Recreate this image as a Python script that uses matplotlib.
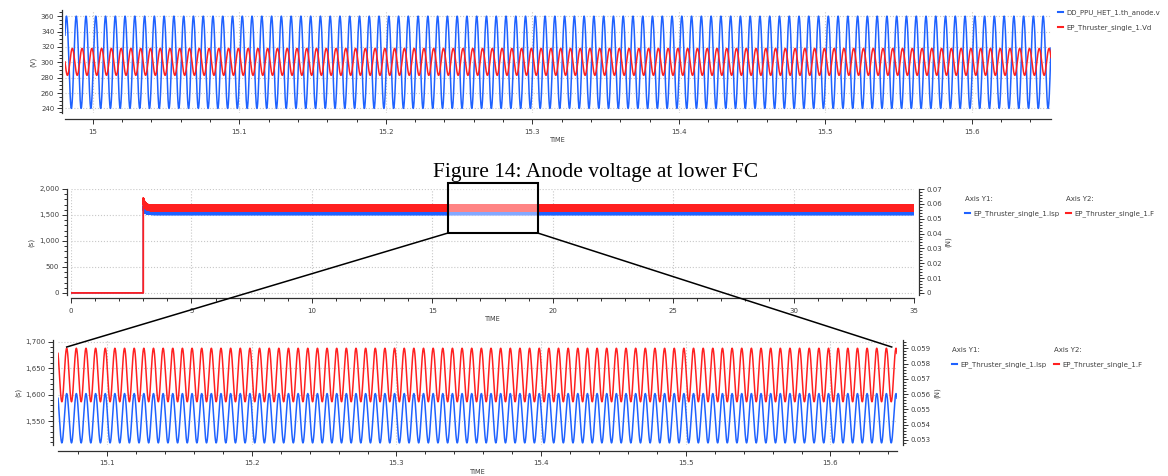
import matplotlib
matplotlib.use('Agg')
import matplotlib.pyplot as plt
import numpy as np
from matplotlib.lines import Line2D
from matplotlib.patches import Rectangle
from matplotlib.ticker import MultipleLocator, AutoMinorLocator, FuncFormatter

W, H = 1168, 476
plt.rcParams['font.family'] = ['DejaVu Sans']

BLUE = '#1f62ff'
RED = '#ff2020'
TXT = '#404040'
GRID = '#c8c8c8'

FREQ_HZ = 150.0

# top panel: anode voltage
TOP_XLIM = [14.981, 15.654]
TOP_YLIM = [234, 368]
TOP_LABELS = ['DD_PPU_HET_1.th_anode.v', 'EP_Thruster_single_1.Vd']
TOP_MIN = [240.0, 283.0]
TOP_MAX = [360.0, 318.0]
TOP_PEAK_T = [14.982, 14.986]

# middle panel: whole run
MID_XLIM = [0, 35]
MID_LABELS = ['EP_Thruster_single_1.Isp', 'EP_Thruster_single_1.F']
STEP_T = 3.0
ISP_BAND = [1509.0, 1602.0]
F_BAND = [0.0555, 0.0590]
ISP_PEAK = 1680.0
F_PEAK = 0.0640
SETTLE_TAU = 0.08

# bottom panel: zoom
ZOOM_XLIM = [15.066, 15.646]
ZOOM_YLIM_S = [1505, 1703]
ZOOM_YLIM_N = [0.05267, 0.05954]
ZOOM_PEAK_T = 15.072


def fx(px):
    return px / W


def fy(py):
    return 1 - py / H


def wave(t, lo, hi, t_peak):
    mid = (lo + hi) / 2
    amp = (hi - lo) / 2
    return mid + amp * np.cos(2 * np.pi * FREQ_HZ * (t - t_peak))


def style_axes(ax, xoff, yoff):
    for side in ['top', 'right']:
        ax.spines[side].set_visible(False)
    ax.spines['left'].set_position(('outward', yoff))
    ax.spines['bottom'].set_position(('outward', xoff))
    for side in ['left', 'bottom']:
        ax.spines[side].set_color('#303030')
        ax.spines[side].set_linewidth(0.9)
    ax.tick_params(which='both', direction='out', colors='#303030',
                   labelcolor=TXT, labelsize=5, width=0.7)
    ax.tick_params(which='major', length=3.5)
    ax.tick_params(which='minor', length=2)
    ax.tick_params(axis='x', which='major', pad=3.5)
    ax.tick_params(axis='y', which='major', pad=2)
    ax.grid(True, which='major', color=GRID, linestyle=':', linewidth=0.8)
    ax.set_axisbelow(True)
    ax.set_xlabel('TIME', fontsize=4.8, color=TXT, labelpad=1.5)


def style_twin(ax2, yoff):
    for side in ['top', 'left', 'bottom']:
        ax2.spines[side].set_visible(False)
    ax2.spines['right'].set_position(('outward', yoff))
    ax2.spines['right'].set_color('#303030')
    ax2.spines['right'].set_linewidth(0.9)
    ax2.tick_params(which='both', direction='out', colors='#303030',
                    labelcolor=TXT, labelsize=5, width=0.7)
    ax2.tick_params(which='major', length=3.5, pad=2)
    ax2.tick_params(which='minor', length=2)


def add_legend(ax, handles, labels, x, y, title=None):
    leg = ax.legend(handles, labels, title=title, loc='upper left',
                    bbox_to_anchor=(fx(x), fy(y)), bbox_transform=ax.figure.transFigure,
                    frameon=False, fontsize=5, title_fontsize=5,
                    handlelength=0.7, handletextpad=0.5, borderpad=0,
                    borderaxespad=0, labelspacing=1.2, alignment='left')
    for txt in leg.get_texts():
        txt.set_color(TXT)
    if title:
        leg.get_title().set_color(TXT)
    return leg


gfmt = FuncFormatter(lambda v, p: f'{v:g}')
cfmt = FuncFormatter(lambda v, p: f'{v:,.0f}')

fig = plt.figure(figsize=(W / 100, H / 100), dpi=100)

# ---------- top panel ----------
ax1 = fig.add_axes([fx(65), fy(113), fx(1051) - fx(65), (113 - 10) / H])
t_top = np.linspace(TOP_XLIM[0], TOP_XLIM[1], 8000)
colors = [BLUE, RED]
for i in range(2):
    ax1.plot(t_top, wave(t_top, TOP_MIN[i], TOP_MAX[i], TOP_PEAK_T[i]),
             color=colors[i], lw=1.1)
ax1.set_xlim(TOP_XLIM)
ax1.set_ylim(TOP_YLIM)
ax1.xaxis.set_major_locator(MultipleLocator(0.1))
ax1.xaxis.set_minor_locator(AutoMinorLocator(5))
ax1.yaxis.set_major_locator(MultipleLocator(20))
ax1.yaxis.set_minor_locator(AutoMinorLocator(4))
ax1.xaxis.set_major_formatter(gfmt)
style_axes(ax1, xoff=4.3, yoff=2.2)
ax1.set_ylabel('(V)', fontsize=5, color=TXT, labelpad=3)
add_legend(ax1, [Line2D([], [], color=c, lw=1.5) for c in colors], TOP_LABELS, 1058, 9)

fig.text(fx(595.5), fy(177), 'Figure 14: Anode voltage at lower FC',
         family=['Liberation Serif', 'DejaVu Serif'], fontsize=15.4,
         ha='center', va='baseline', color='black')

# ---------- middle panel ----------
ax2 = fig.add_axes([fx(71), fy(295), fx(914) - fx(71), (295 - 189) / H])
t_mid = np.linspace(MID_XLIM[0], MID_XLIM[1], 84001)
on = t_mid >= STEP_T
decay = np.exp(-(t_mid - STEP_T) / SETTLE_TAU)
isp = np.where(on, wave(t_mid, ISP_BAND[0], ISP_BAND[1], STEP_T)
               + (ISP_PEAK - ISP_BAND[1]) * decay, 0.0)
thrust = np.where(on, wave(t_mid, F_BAND[0], F_BAND[1], STEP_T)
                  + (F_PEAK - F_BAND[1]) * decay, 0.0)
ax2.plot(t_mid, isp, color=BLUE, lw=1.0)
ax2.set_xlim(MID_XLIM)
ax2.set_ylim(-40, 2000)
ax2.xaxis.set_major_locator(MultipleLocator(5))
ax2.xaxis.set_minor_locator(AutoMinorLocator(5))
ax2.yaxis.set_major_locator(MultipleLocator(500))
ax2.yaxis.set_minor_locator(AutoMinorLocator(5))
ax2.yaxis.set_major_formatter(cfmt)
style_axes(ax2, xoff=2.2, yoff=3.0)
ax2.set_ylabel('(s)', fontsize=5, color=TXT, labelpad=3)
ax2r = ax2.twinx()
ax2r.plot(t_mid, thrust, color=RED, lw=1.3)
ax2r.set_ylim(-0.0014, 0.07)
ax2r.yaxis.set_major_locator(MultipleLocator(0.01))
ax2r.yaxis.set_minor_locator(AutoMinorLocator(5))
ax2r.yaxis.set_major_formatter(gfmt)
style_twin(ax2r, 3.6)
ax2r.set_ylabel('(N)', fontsize=5, color=TXT, labelpad=2)
add_legend(ax2r, [Line2D([], [], color=BLUE, lw=1.5)], [MID_LABELS[0]], 965, 196, 'Axis Y1:')
ax2r.add_artist(ax2r.get_legend())
add_legend(ax2r, [Line2D([], [], color=RED, lw=1.5)], [MID_LABELS[1]], 1066, 196, 'Axis Y2:')

# ---------- bottom panel ----------
ax3 = fig.add_axes([fx(58), fy(445), fx(897) - fx(58), (445 - 340) / H])
t_zoom = np.linspace(ZOOM_XLIM[0], ZOOM_XLIM[1], 8000)
ax3.plot(t_zoom, wave(t_zoom, ISP_BAND[0], ISP_BAND[1], ZOOM_PEAK_T), color=BLUE, lw=1.1)
ax3.set_xlim(ZOOM_XLIM)
ax3.set_ylim(ZOOM_YLIM_S)
ax3.xaxis.set_major_locator(MultipleLocator(0.1))
ax3.xaxis.set_minor_locator(AutoMinorLocator(5))
ax3.yaxis.set_major_locator(MultipleLocator(50))
ax3.yaxis.set_minor_locator(AutoMinorLocator(5))
ax3.xaxis.set_major_formatter(gfmt)
ax3.yaxis.set_major_formatter(cfmt)
style_axes(ax3, xoff=4.1, yoff=3.6)
ax3.set_ylabel('(s)', fontsize=5, color=TXT, labelpad=3)
ax3r = ax3.twinx()
ax3r.plot(t_zoom, wave(t_zoom, F_BAND[0], F_BAND[1], ZOOM_PEAK_T), color=RED, lw=1.1)
ax3r.set_ylim(ZOOM_YLIM_N)
ax3r.yaxis.set_major_locator(MultipleLocator(0.001))
ax3r.yaxis.set_minor_locator(AutoMinorLocator(5))
ax3r.yaxis.set_major_formatter(gfmt)
style_twin(ax3r, 4.3)
ax3r.set_ylabel('(N)', fontsize=5, color=TXT, labelpad=2)
add_legend(ax3r, [Line2D([], [], color=BLUE, lw=1.5)], [MID_LABELS[0]], 952, 347, 'Axis Y1:')
ax3r.add_artist(ax3r.get_legend())
add_legend(ax3r, [Line2D([], [], color=RED, lw=1.5)], [MID_LABELS[1]], 1054, 347, 'Axis Y2:')

# ---------- zoom marker ----------
x0, x1, y0, y1 = 448, 537.7, 182.7, 233
fig.add_artist(Rectangle((fx(x0), fy(y1)), fx(x1) - fx(x0), fy(y0) - fy(y1),
                         transform=fig.transFigure, facecolor='white', alpha=0.45,
                         edgecolor='none', zorder=3))
fig.add_artist(Rectangle((fx(x0), fy(y1)), fx(x1) - fx(x0), fy(y0) - fy(y1),
                         transform=fig.transFigure, facecolor='none',
                         edgecolor='black', lw=1.5, zorder=4))
fig.add_artist(Line2D([fx(x0), fx(66.7)], [fy(y1), fy(347)], transform=fig.transFigure,
                      color='black', lw=1.1, zorder=4))
fig.add_artist(Line2D([fx(x1), fx(891.7)], [fy(y1), fy(347)], transform=fig.transFigure,
                      color='black', lw=1.1, zorder=4))

fig.savefig('out.png', dpi=100)
